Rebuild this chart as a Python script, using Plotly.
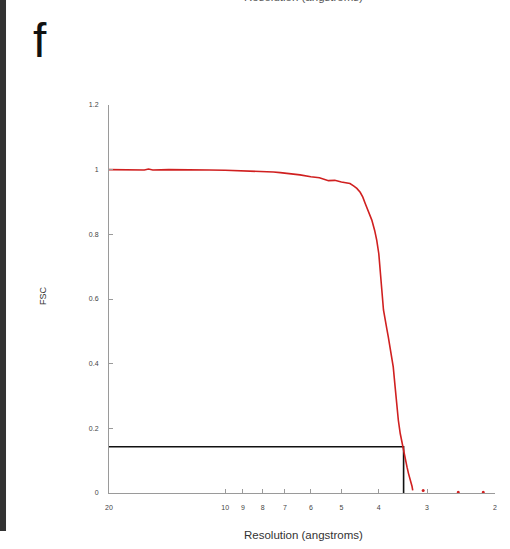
import math
import plotly.graph_objects as go

# FSC curve (resolution in angstroms, FSC value)
resolution = [20, 17.5, 16.2, 15.8, 15.4, 14, 13, 12, 11, 10, 9, 8, 7.5, 7.2, 6.8, 6.4,
              6.0, 5.7, 5.4, 5.2, 5.0, 4.85, 4.75, 4.65, 4.56, 4.47, 4.40, 4.34, 4.25,
              4.17, 4.10, 4.05, 4.00, 3.97, 3.93, 3.89, 3.85, 3.81, 3.78, 3.72, 3.67,
              3.63, 3.60, 3.56, 3.52, 3.49, 3.46, 3.42, 3.38, 3.35, 3.31, 3.28, 3.267]
fsc = [1.000, 1.000, 0.999, 1.002, 0.999, 1.000, 0.999, 1.000, 0.999, 0.998, 0.997,
       0.995, 0.993, 0.991, 0.988, 0.984, 0.978, 0.975, 0.966, 0.967, 0.962, 0.958,
       0.957, 0.950, 0.942, 0.930, 0.915, 0.896, 0.870, 0.844, 0.812, 0.782, 0.740,
       0.700, 0.630, 0.566, 0.530, 0.505, 0.483, 0.435, 0.390, 0.330, 0.275, 0.225,
       0.184, 0.160, 0.142, 0.115, 0.080, 0.060, 0.040, 0.020, 0.008]

# isolated tail points
tail_res = [3.07, 2.49, 2.145]
tail_fsc = [0.008, 0.002, 0.002]

# FSC = 0.143 criterion
cut_fsc = 0.143
cut_res = 3.45

x_tickvals = [20, 10, 9, 8, 7, 6, 5, 4, 3, 2]
x_ticktext = ["20", "10", "9", "8", "7", "6", "5", "4", "3", "2"]
y_tickvals = [0, 0.2, 0.4, 0.6, 0.8, 1.0, 1.2]
y_ticktext = ["0", "0.2", "0.4", "0.6", "0.8", "1", "1.2"]

FONT = "Liberation Sans, Arial, sans-serif"

fig = go.Figure()
fig.add_trace(go.Scatter(x=[20, cut_res, cut_res], y=[cut_fsc, cut_fsc, 0],
                         mode="lines", line=dict(color="#111111", width=1.6),
                         hoverinfo="skip", showlegend=False))
fig.add_trace(go.Scatter(x=resolution, y=fsc, mode="lines",
                         line=dict(color="#d02020", width=1.6), showlegend=False))
fig.add_trace(go.Scatter(x=tail_res, y=tail_fsc, mode="markers",
                         marker=dict(color="#d02020", size=3), showlegend=False))

axis_common = dict(showline=True, linecolor="#9a9a9a", linewidth=1, showgrid=False,
                   zeroline=False, ticks="inside", ticklen=4, tickcolor="#9a9a9a",
                   tickfont=dict(family=FONT, size=7, color="#444444"))

fig.update_xaxes(type="log", range=[math.log10(20), math.log10(2)],
                 tickmode="array", tickvals=x_tickvals, ticktext=x_ticktext,
                 ticklabelstandoff=8, **axis_common)
fig.update_yaxes(range=[0, 1.2], tickmode="array", tickvals=y_tickvals,
                 ticktext=y_ticktext, ticklabelstandoff=8, **axis_common)

fig.update_layout(
    width=510, height=549,
    margin=dict(l=109, r=15, t=105, b=56),
    paper_bgcolor="white", plot_bgcolor="white",
    font=dict(family=FONT),
    shapes=[dict(type="rect", xref="paper", yref="paper",
                 x0=-0.2824, x1=-0.2668, y0=-0.098, y1=1.3,
                 fillcolor="#333333", line=dict(width=0), layer="above")],
    annotations=[
        dict(text="FSC", x=-0.189, y=0.508, xref="paper", yref="paper",
             showarrow=False, textangle=-90, font=dict(size=9, color="#333333")),
        dict(text="Resolution (angstroms)", x=0.503, y=-0.128, xref="paper",
             yref="paper", showarrow=False, font=dict(size=11.5, color="#333333")),
        dict(text="Resolution (angstroms)", x=0.503, y=1.298, xref="paper",
             yref="paper", showarrow=False, font=dict(size=11.5, color="#555555")),
        dict(text="f", x=-0.202, y=1.24, xref="paper", yref="paper",
             showarrow=False, font=dict(size=48, color="#111111")),
    ],
)

fig.write_html("out.html")
